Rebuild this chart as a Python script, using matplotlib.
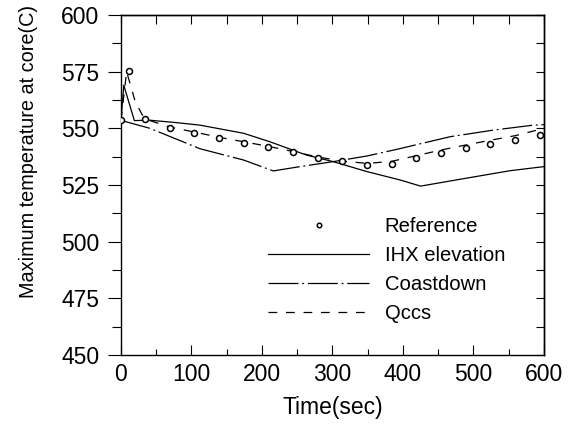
import numpy as np
import matplotlib
matplotlib.use("Agg")
import matplotlib.pyplot as plt
from matplotlib.ticker import MultipleLocator

plt.rcParams['font.family'] = ['Liberation Sans', 'DejaVu Sans']

# ------------------------------------------------------------
# data
# ------------------------------------------------------------
ref_t = [0, 11, 34, 69, 104, 139, 174, 209, 244, 279, 314, 349, 384,
         419, 454, 489, 524, 559, 594]
ref_T = [553.5, 575.5, 554.0, 550.0, 547.8, 545.6, 543.7, 541.6, 539.4,
         537.0, 535.6, 533.8, 534.1, 536.8, 539.2, 541.3, 543.1, 544.9, 547.0]

ihx_t = [0, 4, 19, 40, 79, 112, 150, 174, 211, 263, 301, 349, 396, 425,
         490, 552, 600]
ihx_T = [553.5, 569.0, 553.4, 553.6, 552.5, 551.4, 549.2, 547.8, 544.1,
         538.2, 535.3, 530.9, 527.2, 524.5, 528.0, 531.3, 533.1]

cd_t = [0, 41, 112, 174, 216, 254, 301, 349, 391, 467, 528, 585, 600]
cd_T = [553.5, 550.0, 541.0, 536.0, 531.2, 533.1, 535.3, 537.8, 540.7,
        546.3, 549.2, 551.4, 551.6]

q_t = [0, 8, 20, 30, 40, 70, 105, 140, 175, 210, 245, 280, 315, 350, 385,
       420, 455, 490, 525, 560, 600]
q_T = [553.5, 575.0, 562.0, 556.0, 553.5, 550.5, 548.3, 546.0, 544.0,
       542.0, 539.7, 537.3, 535.5, 534.5, 535.5, 538.0, 540.5, 542.7,
       544.8, 546.8, 550.0]

# ------------------------------------------------------------
# plot
# ------------------------------------------------------------
fig = plt.figure(figsize=(5.72, 4.28), dpi=100)
ax = fig.add_axes([0.2115, 0.1706, 0.7395, 0.7944])

ax.plot(ref_t, ref_T, 'o', ms=4.3, mfc='white', mec='black', mew=1.1,
        label='Reference', zorder=5)
ax.plot(ihx_t, ihx_T, '-', color='black', lw=0.9, label='IHX elevation')
ax.plot(cd_t, cd_T, color='black', lw=0.9, ls=(0, (24, 3, 1.5, 3)),
        label='Coastdown')
ax.plot(q_t, q_T, color='black', lw=0.9, ls=(0, (7, 7)), label='Qccs')

ax.set_xlim(0, 600)
ax.set_ylim(450, 600)
ax.xaxis.set_major_locator(MultipleLocator(100))
ax.xaxis.set_minor_locator(MultipleLocator(50))
ax.yaxis.set_major_locator(MultipleLocator(25))
ax.yaxis.set_minor_locator(MultipleLocator(12.5))

ax.tick_params(axis='x', which='major', direction='in', length=7, width=0.8,
               labelsize=16.5, pad=6)
ax.tick_params(axis='x', which='minor', direction='in', length=4.5, width=0.8)
ax.tick_params(axis='y', which='major', direction='out', length=9.5, width=0.8,
               labelsize=16.5, pad=6)
ax.tick_params(axis='y', which='minor', direction='out', length=6.5, width=0.8)

for s in ax.spines.values():
    s.set_linewidth(1.0)

top = ax.secondary_xaxis('top')
top.xaxis.set_major_locator(MultipleLocator(50))
top.tick_params(direction='in', length=6.5, width=0.8, labeltop=False)
top.spines['top'].set_linewidth(1.0)

right = ax.secondary_yaxis('right')
right.yaxis.set_major_locator(MultipleLocator(12.5))
right.tick_params(direction='in', length=6, width=0.8, labelright=False)
right.spines['right'].set_linewidth(1.0)

ax.set_xlabel('Time(sec)', fontsize=16.5, labelpad=7)
ax.set_ylabel('Maximum temperature at core(C)', fontsize=14.3)
ax.yaxis.set_label_coords(-0.197, 0.6)

ax.legend(loc='upper left', bbox_to_anchor=(0.3475, 0.407), frameon=False,
          fontsize=14.6, handlelength=5, handletextpad=0.75, labelspacing=0.5,
          borderpad=0, borderaxespad=0, numpoints=1, markerscale=0.75)

fig.savefig('out.png', dpi=100)
